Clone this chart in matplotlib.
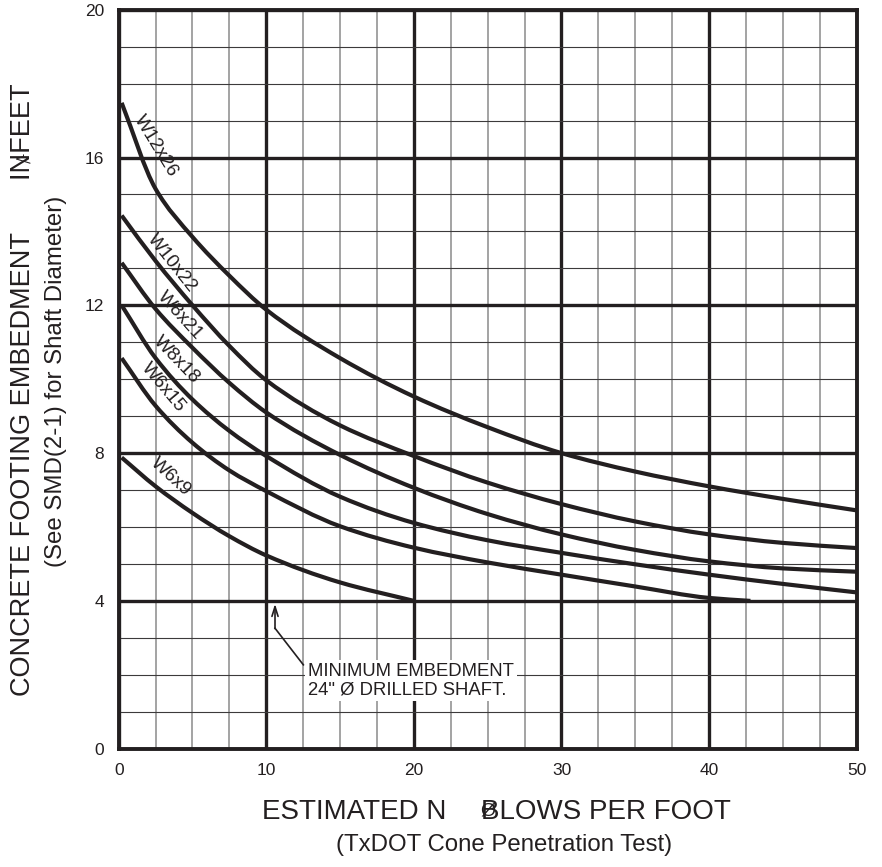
import numpy as np
import matplotlib
matplotlib.use("Agg")
import matplotlib.pyplot as plt
from matplotlib.path import Path
from matplotlib.patches import PathPatch

plt.rcParams['font.family'] = ['Liberation Sans', 'DejaVu Sans']

INK = '#231f20'

# Embedment depth (ft) versus blow count N for each post section
n_common = [0.2, 2.5, 5, 7.5, 10, 15, 20, 25, 30, 35, 40, 45, 50]
w12x26 = [17.48, 15.15, 13.85, 12.8, 11.88, 10.57, 9.53, 8.7, 8.0, 7.5, 7.1, 6.76, 6.45]
w10x22 = [14.43, 13.2, 12.0, 10.9, 9.97, 8.75, 7.92, 7.2, 6.62, 6.15, 5.8, 5.57, 5.43]
w8x21 = [13.15, 11.9, 10.85, 9.9, 9.1, 7.95, 7.06, 6.35, 5.8, 5.38, 5.07, 4.88, 4.79]
w8x18 = [12.0, 10.57, 9.45, 8.6, 7.92, 6.82, 6.11, 5.64, 5.3, 4.99, 4.71, 4.46, 4.23]
n_w6x15 = [0.2, 2.5, 5, 7.5, 10, 15, 20, 25, 30, 35, 40, 42.8]
w6x15 = [10.57, 9.28, 8.28, 7.53, 6.97, 6.02, 5.44, 5.04, 4.71, 4.39, 4.08, 4.0]
n_w6x9 = [0.2, 2.5, 5, 7.5, 10, 15, 20]
w6x9 = [7.88, 7.1, 6.38, 5.75, 5.23, 4.5, 4.0]

series = [
    ("W12x26", n_common, w12x26),
    ("W10x22", n_common, w10x22),
    ("W8x21", n_common, w8x21),
    ("W8x18", n_common, w8x18),
    ("W6x15", n_w6x15, w6x15),
    ("W6x9", n_w6x9, w6x9),
]

# label anchor (N, depth) and on-screen angle for each curve name
label_pos = {
    "W12x26": (2.5, 16.3, -58.5),
    "W10x22": (3.6, 13.15, -51.6),
    "W8x21": (4.15, 11.72, -47.8),
    "W8x18": (3.9, 10.52, -46.0),
    "W6x15": (3.0, 9.77, -50.0),
    "W6x9": (3.5, 7.35, -42.5),
}

x_major = np.arange(0, 51, 10)
x_minor = np.arange(0, 50.1, 2.5)
y_major = np.arange(0, 21, 4)
y_minor = np.arange(0, 20.1, 1)


def hermite_path(x, y):
    """Smooth monotone cubic (Bezier) path through the given points."""
    x = np.asarray(x, float)
    y = np.asarray(y, float)
    h = np.diff(x)
    d = np.diff(y) / h
    m = np.zeros_like(y)
    m[0], m[-1] = d[0], d[-1]
    for i in range(1, len(x) - 1):
        if d[i - 1] * d[i] <= 0:
            m[i] = 0.0
        else:
            w1 = 2 * h[i] + h[i - 1]
            w2 = h[i] + 2 * h[i - 1]
            m[i] = (w1 + w2) / (w1 / d[i - 1] + w2 / d[i])
    verts = [(x[0], y[0])]
    codes = [Path.MOVETO]
    for i in range(len(x) - 1):
        verts += [(x[i] + h[i] / 3, y[i] + m[i] * h[i] / 3),
                  (x[i + 1] - h[i] / 3, y[i + 1] - m[i + 1] * h[i] / 3),
                  (x[i + 1], y[i + 1])]
        codes += [Path.CURVE4] * 3
    return Path(verts, codes)


fig = plt.figure(figsize=(8.82, 8.67), dpi=100)
ax = fig.add_axes([0.13458, 0.13645, 0.83673, 0.85236])
ax.set_xlim(0, 50)
ax.set_ylim(0, 20)

ax.set_xticks(x_major)
ax.set_xticks(x_minor, minor=True)
ax.set_yticks(y_major)
ax.set_yticks(y_minor, minor=True)
ax.tick_params(which='both', length=0)
ax.tick_params(axis='x', pad=10.3, labelsize=12.5, labelcolor=INK)
ax.tick_params(axis='y', pad=10.6, labelsize=12.5, labelcolor=INK)

ax.xaxis.grid(True, which='minor', color='#8a8a8a', lw=1.1)
ax.yaxis.grid(True, which='minor', color='#3c3a3b', lw=0.8)
ax.grid(True, which='major', color=INK, lw=2.4)
ax.set_axisbelow(True)

for sp in ax.spines.values():
    sp.set_linewidth(2.8)
    sp.set_color(INK)

for name, xs, ys in series:
    ax.add_patch(PathPatch(hermite_path(xs, ys), facecolor='none',
                           edgecolor=INK, lw=3.0, capstyle='butt',
                           joinstyle='round', zorder=3))
    lx, ly, rot = label_pos[name]
    ax.text(lx, ly, name, rotation=rot, rotation_mode='anchor',
            ha='center', va='center', fontsize=13.5, color=INK, zorder=4)

# minimum embedment note with leader arrow
ax.plot([12.51, 10.59], [2.27, 3.26], color=INK, lw=1.2, zorder=4)
ax.annotate('', xy=(10.59, 3.92), xytext=(10.59, 3.25),
            arrowprops=dict(arrowstyle='->,head_length=0.7,head_width=0.22',
                            color=INK, lw=1.2, shrinkA=0, shrinkB=0),
            zorder=4)
ax.text(12.83, 1.84, 'MINIMUM EMBEDMENT\n24" Ø DRILLED SHAFT.',
        ha='left', va='center', fontsize=13.3, color=INK, linespacing=1.15,
        zorder=5,
        bbox=dict(facecolor='white', edgecolor='none', pad=2.0))

# axis titles
W, H = 882.0, 867.0
fig.text(30.4 / W, 1 - 390 / H, 'CONCRETE FOOTING EMBEDMENT       INFEET',
         rotation=90, rotation_mode='anchor', ha='center', va='baseline',
         fontsize=19.5, color=INK)
fig.text(19 / W, 1 - 158 / H, '√', rotation=-90, ha='center', va='center',
         fontsize=13, color=INK)
fig.text(62.4 / W, 1 - 381 / H, '(See SMD(2-1) for Shaft Diameter)',
         rotation=90, rotation_mode='anchor', ha='center', va='baseline',
         fontsize=17.3, color=INK)

fig.text(262 / W, 1 - 819.3 / H, 'ESTIMATED N', ha='left', va='baseline',
         fontsize=20, color=INK)
fig.text(481 / W, 1 - 819.3 / H, 'BLOWS PER FOOT', ha='left', va='baseline',
         fontsize=20, color=INK)
fig.text(488 / W, 1 - 811 / H, 'Ø', ha='center', va='center',
         fontsize=14, color=INK)
fig.text(504 / W, 1 - 850.5 / H, '(TxDOT Cone Penetration Test)',
         ha='center', va='baseline', fontsize=17.3, color=INK)

fig.savefig('out.png', dpi=100, facecolor='white')
